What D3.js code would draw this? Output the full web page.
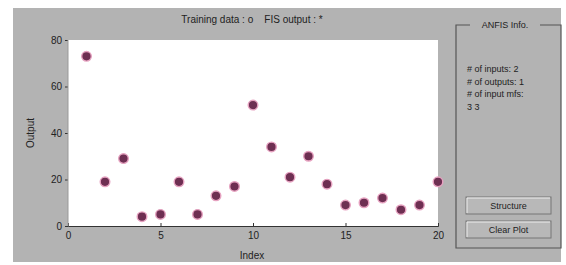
<!doctype html>
<html>
<head>
<meta charset="utf-8">
<script src="https://cdn.jsdelivr.net/npm/d3@7"></script>
<style>
  body { margin: 0; background: white; }
  svg text { font-family: "Liberation Sans", Arial, sans-serif; fill: #222; }
</style>
</head>
<body>
<svg id="chart" width="566" height="265"></svg>
<script>
  // training data, index 1..20
  const indices = d3.range(1, 21)
  const outputs = [73, 19, 29, 4, 5, 19, 5, 13, 17, 52, 34, 21, 30, 18, 9, 10, 12, 7, 9, 19]
  const xTicks = [0, 5, 10, 15, 20]
  const yTicks = [0, 20, 40, 60, 80]
  const infoLines = ["# of inputs: 2", "# of outputs: 1", "# of input mfs:", "3 3"]
  const buttons = ["Structure", "Clear Plot"]

  const svg = d3.select("#chart")

  // figure background
  svg.append("rect")
    .attr("x", 13).attr("y", 8)
    .attr("width", 548).attr("height", 254)
    .attr("fill", "#b3b3b3")

  const plot = { left: 68, top: 40, right: 438, bottom: 226 }

  const x = d3.scaleLinear().domain([0, 20]).range([plot.left, plot.right])
  const y = d3.scaleLinear().domain([0, 80]).range([plot.bottom, plot.top])

  svg.append("rect")
    .attr("x", plot.left).attr("y", plot.top)
    .attr("width", plot.right - plot.left).attr("height", plot.bottom - plot.top)
    .attr("fill", "white")

  const xAxis = svg.append("g")
    .attr("transform", "translate(0," + plot.bottom + ")")
    .call(d3.axisBottom(x).tickValues(xTicks).tickSize(-3).tickPadding(6))
  const yAxis = svg.append("g")
    .attr("transform", "translate(" + plot.left + ",0)")
    .call(d3.axisLeft(y).tickValues(yTicks).tickSize(3).tickPadding(3))

  xAxis.selectAll("path, line").attr("stroke", "#333")
  yAxis.selectAll("path").attr("stroke", "none")
  yAxis.selectAll("line").attr("stroke", "#333")
  svg.selectAll(".tick text").attr("font-size", 10).attr("fill", "#222")

  svg.append("line")
    .attr("x1", plot.left).attr("x2", plot.left)
    .attr("y1", plot.top).attr("y2", plot.bottom)
    .attr("stroke", "#999")

  // training points
  svg.selectAll(".dot")
    .data(outputs)
    .enter().append("circle")
      .attr("class", "dot")
      .attr("cx", (d, i) => x(indices[i]))
      .attr("cy", d => y(d))
      .attr("r", 4.8)
      .attr("fill", "#6e2f52")
      .attr("stroke", "#e6a2c0")
      .attr("stroke-width", 1.4)

  svg.append("text")
    .attr("x", 252).attr("y", 23)
    .attr("text-anchor", "middle")
    .attr("font-size", 10)
    .style("white-space", "pre")
    .text("Training data : o    FIS output : *")

  svg.append("text")
    .attr("x", 252).attr("y", 259)
    .attr("text-anchor", "middle")
    .attr("font-size", 10)
    .text("Index")

  svg.append("text")
    .attr("transform", "translate(34,133) rotate(-90)")
    .attr("text-anchor", "middle")
    .attr("font-size", 10)
    .text("Output")

  // ANFIS info group box
  const box = svg.append("g")
  box.append("path")
    .attr("d", "M470,25 H456 V248 H561 V25 H540")
    .attr("fill", "none").attr("stroke", "#555").attr("stroke-width", 1.2)
  box.append("text")
    .attr("x", 505).attr("y", 28)
    .attr("text-anchor", "middle")
    .attr("font-size", 9)
    .text("ANFIS Info.")

  box.selectAll(".info")
    .data(infoLines)
    .enter().append("text")
      .attr("x", 467)
      .attr("y", (d, i) => 72 + i * 12.5)
      .attr("font-size", 9)
      .text(d => d)

  const btn = box.selectAll(".btn")
    .data(buttons)
    .enter().append("g")
      .attr("transform", (d, i) => "translate(466," + (197 + i * 24) + ")")
  btn.append("rect")
    .attr("width", 85).attr("height", 17)
    .attr("fill", "#b8b8b8")
    .attr("stroke", "#777")
  btn.append("path")
    .attr("d", "M1,16 V1 H84")
    .attr("fill", "none").attr("stroke", "#eee")
  btn.append("text")
    .attr("x", 42.5).attr("y", 12)
    .attr("text-anchor", "middle")
    .attr("font-size", 9)
    .text(d => d)
</script>
</body>
</html>
